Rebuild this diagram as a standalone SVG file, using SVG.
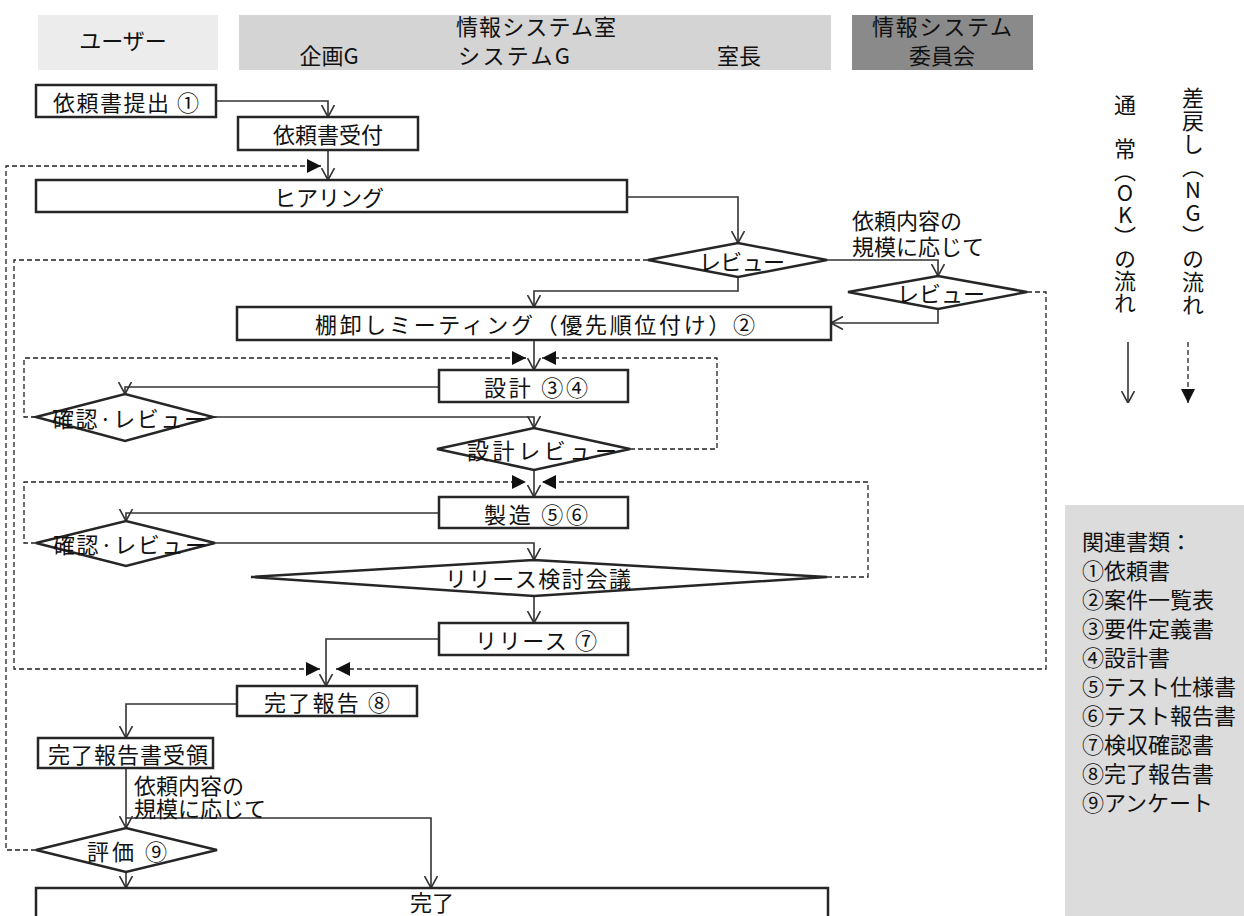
<svg xmlns="http://www.w3.org/2000/svg" width="1244" height="916" viewBox="0 0 1244 916">
<style>
.t{font-family:"Noto Sans CJK JP","Noto Sans CJK SC",sans-serif;font-size:22px;fill:#111;dominant-baseline:central;text-anchor:middle}
.l{text-anchor:start}
.box{fill:#fff;stroke:#262626;stroke-width:2.5}
.ok{fill:none;stroke:#333;stroke-width:1.6;marker-end:url(#open)}
.ng{fill:none;stroke:#222;stroke-width:1.3;stroke-dasharray:5 3;marker-end:url(#tri)}
.v{writing-mode:vertical-rl;text-orientation:upright;text-anchor:start;dominant-baseline:auto}
</style>
<defs>
<marker id="open" viewBox="0 0 12 14" markerWidth="12" markerHeight="14" refX="12" refY="7" orient="auto" markerUnits="userSpaceOnUse"><path d="M0,0.5 L12,7 L0,13.5" fill="none" stroke="#333" stroke-width="1.6"/></marker>
<marker id="tri" viewBox="0 0 14 14" markerWidth="14" markerHeight="14" refX="14" refY="7" orient="auto" markerUnits="userSpaceOnUse"><path d="M0,0 L14,7 L0,14 Z" fill="#111"/></marker>
</defs>
<g id="header">
<rect x="38" y="15" width="180" height="55" fill="#ececec"/>
<text class="t" x="123" y="39">ユーザー</text>
<rect x="239" y="15" width="592" height="55" fill="#d4d4d4"/>
<text class="t" x="536" y="25" textLength="160">情報システム室</text>
<text class="t" x="329" y="54">企画G</text>
<text class="t" x="514" y="54" textLength="112">システムG</text>
<text class="t" x="739" y="54">室長</text>
<rect x="852" y="15" width="181" height="55" fill="#8a8a8a"/>
<text class="t" x="942" y="25" textLength="140">情報システム</text>
<text class="t" x="942" y="54">委員会</text>
</g>
<g id="connectors">
<path class="ok" d="M216,101 H328 V117"/>
<path class="ok" d="M328,150 V180"/>
<path class="ok" d="M627,197 H738 V243"/>
<path class="ok" d="M827,260 H938 V276"/>
<path class="ok" d="M738,277 V291 H534 V307"/>
<path class="ok" d="M938,309 V323 H831"/>
<path class="ok" d="M534,340 V370"/>
<path class="ok" d="M439,387 H125 V394"/>
<path class="ok" d="M213,417 H534 V428"/>
<path class="ok" d="M534,470 V497"/>
<path class="ok" d="M439,513 H126 V521"/>
<path class="ok" d="M215,543 H534 V560"/>
<path class="ok" d="M534,596 V623"/>
<path class="ok" d="M439,639 H326 V686"/>
<path class="ok" d="M237,704 H126 V738"/>
<path class="ok" d="M126,768 V828"/>
<path class="ok" d="M126,818 H431 V888"/>
<path class="ok" d="M126,872 V888"/>
<path class="ng" d="M36,850 H6 V166 H321"/>
<path class="ng" d="M648,260 H14 V669 H320"/>
<path class="ng" d="M1027,292 H1046 V669 H336"/>
<path class="ng" d="M36,417 H24 V358 H526"/>
<path class="ng" d="M630,449 H717 V358 H542"/>
<path class="ng" d="M36,543 H24 V482 H526"/>
<path class="ng" d="M827,577 H868 V482 H542"/>
<text class="t l" x="852" y="219"><tspan x="852" y="219">依頼内容の</tspan><tspan x="852" y="245">規模に応じて</tspan></text>
<text class="t l" x="134" y="784"><tspan x="134" y="784">依頼内容の</tspan><tspan x="134" y="807">規模に応じて</tspan></text>
</g>
<g id="n1"><rect class="box" x="36" y="85" width="180" height="32"/><text class="t" x="126" y="101" textLength="146">依頼書提出 ①</text></g>
<g id="n2"><rect class="box" x="238" y="117" width="180" height="33"/><text class="t" x="328" y="133" textLength="110">依頼書受付</text></g>
<g id="n3"><rect class="box" x="36" y="180" width="591" height="32"/><text class="t" x="329" y="196" textLength="110">ヒアリング</text></g>
<g id="n4"><polygon class="box" points="648,260 738,243 827,260 738,277"/><text class="t" x="742" y="260" textLength="86">レビュー</text></g>
<g id="n5"><polygon class="box" points="848,292 938,276 1027,292 938,309"/><text class="t" x="941" y="292" textLength="88">レビュー</text></g>
<g id="n6"><rect class="box" x="237" y="307" width="594" height="33"/><text class="t" x="535" y="323" textLength="440">棚卸しミーティング（優先順位付け）②</text></g>
<g id="n7"><rect class="box" x="439" y="370" width="189" height="32"/><text class="t" x="536" y="386" textLength="104">設計 ③④</text></g>
<g id="n8"><polygon class="box" points="36,417 125,394 213,417 125,441"/><text class="t" x="129" y="417" textLength="154">確認·レビュー</text></g>
<g id="n9"><polygon class="box" points="437,449 534,428 630,449 534,470"/><text class="t" x="542" y="449" textLength="150">設計レビュー</text></g>
<g id="n10"><rect class="box" x="439" y="497" width="189" height="31"/><text class="t" x="536" y="513" textLength="104">製造 ⑤⑥</text></g>
<g id="n11"><polygon class="box" points="36,543 126,521 215,543 126,566"/><text class="t" x="130" y="543" textLength="154">確認·レビュー</text></g>
<g id="n12"><polygon class="box" points="251,577 534,560 827,577 534,596"/><text class="t" x="538" y="577" textLength="186">リリース検討会議</text></g>
<g id="n13"><rect class="box" x="439" y="623" width="189" height="32"/><text class="t" x="536" y="639" textLength="122">リリース ⑦</text></g>
<g id="n14"><rect class="box" x="237" y="686" width="180" height="30"/><text class="t" x="327" y="701" textLength="126">完了報告 ⑧</text></g>
<g id="n15"><rect class="box" x="38" y="738" width="175" height="30"/><text class="t" x="128" y="753" textLength="160">完了報告書受領</text></g>
<g id="n16"><polygon class="box" points="36,850 126,828 217,850 126,872"/><text class="t" x="127" y="850" textLength="80">評価 ⑨</text></g>
<g id="n17"><rect class="box" x="36" y="888" width="792" height="40"/><text class="t" x="432" y="901">完了</text></g>
<g id="legend">
<text class="t v" x="1125" y="94">通　常（OK）の流れ</text>
<text class="t v" x="1193" y="87" style="letter-spacing:1px">差戻し（NG）の流れ</text>
<path class="ok" d="M1128,342 V403"/>
<path class="ng" d="M1188,342 V403"/>
</g>
<g id="docs">
<rect x="1065" y="505" width="190" height="420" fill="#dcdcdc"/>
<text class="t l" x="1082" y="540">関連書類：</text>
<text class="t l" x="1082" y="569">①依頼書</text>
<text class="t l" x="1082" y="598">②案件一覧表</text>
<text class="t l" x="1082" y="627">③要件定義書</text>
<text class="t l" x="1082" y="656">④設計書</text>
<text class="t l" x="1082" y="685">⑤テスト仕様書</text>
<text class="t l" x="1082" y="714">⑥テスト報告書</text>
<text class="t l" x="1082" y="743">⑦検収確認書</text>
<text class="t l" x="1082" y="772">⑧完了報告書</text>
<text class="t l" x="1082" y="801">⑨アンケート</text>
</g>
</svg>
